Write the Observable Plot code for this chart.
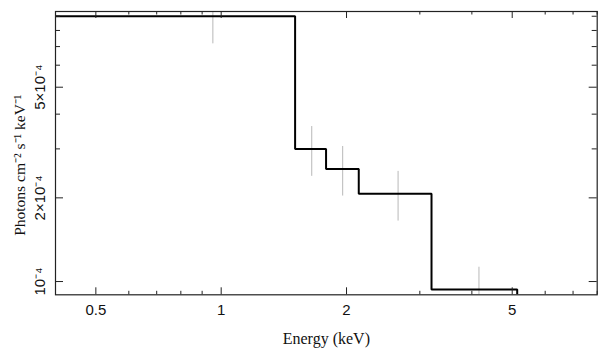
<!DOCTYPE html>
<html>
<head>
<meta charset="utf-8">
<script src="https://cdn.jsdelivr.net/npm/d3@7"></script>
<script src="https://cdn.jsdelivr.net/npm/@observablehq/plot@0.6"></script>
<style>
  html, body { margin: 0; padding: 0; background: #fff; }
</style>
</head>
<body>
<div id="chart"></div>
<script>
// Histogram (folded model) bin edges (keV) and heights (photons cm^-2 s^-1 keV^-1)
const binEdges = [0.35, 1.505, 1.786, 2.14, 3.2, 5.14];
const binValues = [9.0e-4, 3.0e-4, 2.54e-4, 2.07e-4, 0.936e-4];
const floorValue = 5e-5; // final drop goes below the frame

// Data points: energy and vertical error range
const ptEnergy = [0.955, 1.65, 1.958, 2.66, 4.16];
const ptLow = [7.16e-4, 2.39e-4, 2.03e-4, 1.65e-4, 0.8e-4];
const ptHigh = [1.05e-3, 3.61e-4, 3.06e-4, 2.49e-4, 1.126e-4];

// Ticks
const xMajor = [0.5, 1, 2, 5];
const xMinor = [0.6, 0.7, 0.8, 0.9, 3, 4, 6, 7, 8];
const xLabels = ["0.5", "1", "2", "5"];
const yMajor = [1e-4, 2e-4, 5e-4];
const yMinor = [3e-4, 4e-4, 6e-4, 7e-4, 8e-4, 9e-4];
const yLabels = ["10⁻⁴", "2×10⁻⁴", "5×10⁻⁴"];

const xTitle = "Energy (keV)";
const yTitle = "Photons cm⁻² s⁻¹ keV⁻¹";

// Build step line points from bins
const steps = [];
binValues.forEach((v, i) => {
  steps.push({x: binEdges[i], y: v});
  steps.push({x: binEdges[i + 1], y: v});
});
steps.push({x: binEdges[binEdges.length - 1], y: floorValue});

const points = ptEnergy.map((e, i) => ({x: e, y1: ptLow[i], y2: ptHigh[i]}));

const W = 608, H = 357;
const mL = 55, mR = 11.3, mT = 11, mB = 62.7;
const frameW = W - mL - mR, frameH = H - mT - mB;

const sans = "'Liberation Sans', Arial, Helvetica, sans-serif";
const serif = "'Liberation Serif', 'Times New Roman', serif";
const ink = "#222";

// inward ticks on all four sides
function xTicks(values, len) {
  return [
    Plot.tickX(values, {x: d => d, insetTop: frameH - len, stroke: ink, strokeWidth: 1}),
    Plot.tickX(values, {x: d => d, insetBottom: frameH - len, stroke: ink, strokeWidth: 1})
  ];
}
function yTicks(values, len) {
  return [
    Plot.tickY(values, {y: d => d, insetRight: frameW - len, stroke: ink, strokeWidth: 1}),
    Plot.tickY(values, {y: d => d, insetLeft: frameW - len, stroke: ink, strokeWidth: 1})
  ];
}

const chart = Plot.plot({
  width: W,
  height: H,
  marginLeft: mL,
  marginRight: mR,
  marginTop: mT,
  marginBottom: mB,
  style: {background: "#fff", color: ink},
  x: {type: "log", domain: [0.4, 8], axis: null},
  y: {type: "log", domain: [8.96e-5, 9.36e-4], axis: null},
  marks: [
    Plot.ruleX(points, {x: "x", y1: "y1", y2: "y2", stroke: "#b8b8b8", strokeWidth: 1, clip: true}),
    Plot.line(steps, {x: "x", y: "y", stroke: "#000", strokeWidth: 2, clip: true, strokeLinejoin: "miter"}),
    ...xTicks(xMajor, 7),
    ...xTicks(xMinor, 3.5),
    ...yTicks(yMajor, 8),
    ...yTicks(yMinor, 5),
    Plot.frame({stroke: ink, strokeWidth: 1.2}),
    Plot.text(xMajor, {x: d => d, frameAnchor: "bottom", dy: 15, text: (d, i) => xLabels[i],
      fontSize: 15, fontFamily: sans, fill: "#111", textAnchor: "middle", lineAnchor: "middle"}),
    Plot.text(yMajor, {y: d => d, frameAnchor: "left", dx: -15, rotate: -90, text: (d, i) => yLabels[i],
      fontSize: 15, fontFamily: sans, fill: "#111", textAnchor: "middle", lineAnchor: "middle"}),
    Plot.text([xTitle], {frameAnchor: "bottom", dy: 44, text: d => d,
      fontSize: 16, fontFamily: serif, fill: "#111", textAnchor: "middle", lineAnchor: "middle"}),
    Plot.text([yTitle], {frameAnchor: "left", dx: -35, dy: 12, rotate: -90, text: d => d,
      fontSize: 15.5, fontFamily: serif, fill: "#111", textAnchor: "middle", lineAnchor: "middle"})
  ]
});
document.getElementById("chart").appendChild(chart);
</script>
</body>
</html>
